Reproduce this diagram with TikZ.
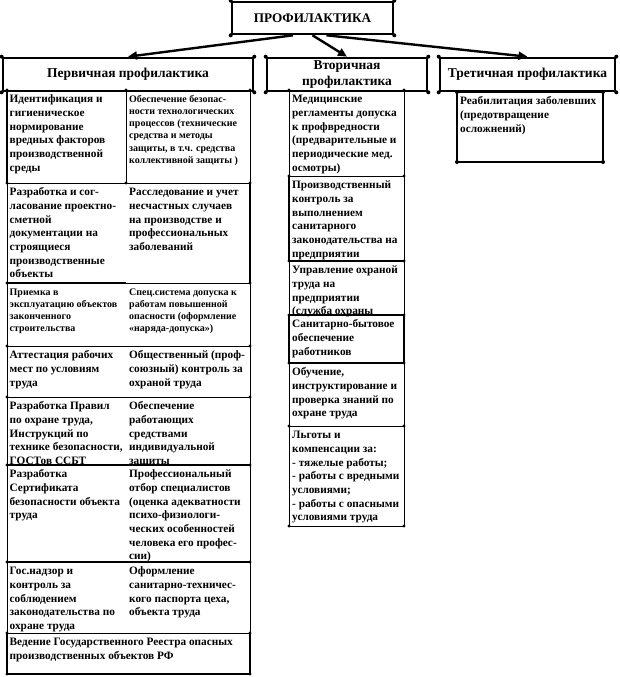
\documentclass[tikz,border=0pt]{standalone}
\usepackage{fontspec}
\setmainfont{Liberation Serif}
\usetikzlibrary{arrows.meta,calc}
\newcommand{\bodyf}{\fontsize{11.3}{13.7}\selectfont\bfseries}
\newcommand{\smallf}{\fontsize{10}{12.2}\selectfont\bfseries}
\newcommand{\headf}{\fontsize{13.5}{15.5}\selectfont\bfseries}
\newcommand{\topf}{\fontsize{13.2}{15}\selectfont\bfseries}
\newcommand{\fs}{\rule{0pt}{10pt}}
\newcommand{\sfs}{\rule{0pt}{9pt}}
\tikzset{
  thinrule/.style={line width=0.8pt},
  thickrule/.style={line width=2.6pt},
  hbox/.style={draw, line width=2.6pt, inner sep=0pt, align=center},
  txt/.style={anchor=north west, inner sep=0pt, align=left, font=\bodyf},
  stxt/.style={anchor=north west, inner sep=0pt, align=left, font=\smallf},
  arr/.style={line width=2.4pt, -{Triangle[length=9pt,width=8pt]}},
  cdot/.style={fill=black}
}
\begin{document}
\begin{tikzpicture}[x=1pt,y=-1pt]
\useasboundingbox (0,0) rectangle (619,677);

% top and header boxes
\node[hbox, minimum width=161pt, minimum height=32pt, font=\topf] (top) at (312.5,18) {ПРОФИЛАКТИКА};
\node[hbox, minimum width=250pt, minimum height=33pt, font=\headf] (prim) at (128,74.5) {Первичная профилактика};
\node[hbox, minimum width=160pt, minimum height=33pt, font=\headf] (sec) at (347,74.5) {Вторичная\\профилактика};
\node[hbox, minimum width=175pt, minimum height=33pt, font=\headf] (tert) at (527.5,74.5) {Третичная профилактика};

\draw[arr] ([xshift=-19.5pt]top.south) -- (prim.north);
\draw[arr] (top.south) -- (sec.north);
\draw[arr] ([xshift=14pt]top.south) -- (tert.north);

% left column grid (thin)
\draw[thinrule] (7,90) -- (250,90);
\draw[thinrule] (7,90) -- (7,633);
\draw[thinrule] (250,90) -- (250,633);
\draw[thinrule] (126,90) -- (126,183);
\foreach \yy in {183,283,346,397,633} \draw[thinrule] (7,\yy) -- (250,\yy);
% left column thick segments
\draw[thickrule] (7,90) -- (7,183);
\draw[thickrule] (250,183) -- (250,283);
\draw[thickrule] (7,283) -- (126,283);
\draw[thickrule] (7,465) -- (250,465);
\draw[thickrule] (7,562) -- (250,562);
\draw[thickrule] (7,633) -- (7,674) -- (250,674) -- (250,633);

% middle column grid
\draw[thinrule] (289,90) rectangle (404,526);
\foreach \yy in {176,261,426} \draw[thinrule] (289,\yy) -- (404,\yy);
\draw[thickrule] (289,176) -- (289,261) -- (404,261);
\draw[thickrule] (289,315) rectangle (404,363);

% tertiary sub box
\draw[thickrule] (457,92) rectangle (603,162);

% corner dots
\foreach \yy in {90,183,283,346,397,465,562,633,674} {
  \fill[cdot] (7,\yy) circle (1.6pt);
  \fill[cdot] (250,\yy) circle (1.6pt);
}
\fill[cdot] (126,90) circle (1.6pt);
\fill[cdot] (126,183) circle (1.6pt);
\foreach \yy in {90,176,261,315,363,426,526} {
  \fill[cdot] (289,\yy) circle (1.6pt);
  \fill[cdot] (404,\yy) circle (1.6pt);
}
\foreach \p in {(top.north west),(top.north east),(top.south west),(top.south east),
  (prim.north west),(prim.north east),(prim.south west),(prim.south east),
  (sec.north west),(sec.north east),(sec.south west),(sec.south east),
  (tert.north west),(tert.north east),(tert.south west),(tert.south east),
  (457,92),(603,92),(457,162),(603,162)}
  \fill[cdot] \p circle (2pt);

% left column texts
\node[txt] (l1a) at (9.5,92.5) {\fs Идентификация и\\гигиеническое\\нормирование\\вредных факторов\\производственной\\среды};
\node[stxt] (l1b) at (129,93) {\sfs Обеспечение безопас-\\ности технологических\\процессов (технические\\средства и методы\\защиты, в т.ч. средства\\коллективной защиты )};
\node[txt] (l2a) at (9.5,185.5) {\fs Разработка и сог-\\ласование проектно-\\сметной\\документации на\\строящиеся\\производственные\\объекты};
\node[txt] (l2b) at (129,185.5) {\fs Расследование и учет\\несчастных случаев\\на производстве и\\профессиональных\\заболеваний};
\node[stxt] (l3a) at (9.5,286) {\sfs Приемка в\\эксплуатацию объектов\\законченного\\строительства};
\node[stxt] (l3b) at (129,286) {\sfs Спец.система допуска к\\работам повышенной\\опасности (оформление\\«наряда-допуска»)};
\node[txt] (l4a) at (9.5,348.5) {\fs Аттестация рабочих\\мест по условиям\\труда};
\node[txt] (l4b) at (129,348.5) {\fs Общественный (проф-\\союзный) контроль за\\охраной труда};
\node[txt] (l5a) at (9.5,399.5) {\fs Разработка Правил\\по охране труда,\\Инструкций по\\технике безопасности,\\ГОСТов ССБТ};
\node[txt] (l5b) at (129,399.5) {\fs Обеспечение\\работающих\\средствами\\индивидуальной\\защиты};
\node[txt] (l6a) at (9.5,467.5) {\fs Разработка\\Сертификата\\безопасности объекта\\труда};
\node[txt] (l6b) at (129,467.5) {\fs Профессиональный\\отбор специалистов\\(оценка адекватности\\психо-физиологи-\\ческих особенностей\\человека его профес-\\сии)};
\node[txt] (l7a) at (9.5,564.5) {\fs Гос.надзор и\\контроль за\\соблюдением\\законодательства по\\охране труда};
\node[txt] (l7b) at (129,564.5) {\fs Оформление\\санитарно-техничес-\\кого паспорта цеха,\\объекта труда};
\node[txt] (l8) at (9.5,635.5) {\fs Ведение Государственного Реестра опасных\\производственных объектов РФ};

% middle column texts
\node[txt] (m1) at (292,92.5) {\fs Медицинские\\регламенты допуска\\к профвредности\\(предварительные и\\периодические мед.\\осмотры)};
\node[txt] (m2) at (292,178.5) {\fs Производственный\\контроль за\\выполнением\\санитарного\\законодательства на\\предприятии};
\node[txt] (m3) at (292,263.5) {\fs Управление охраной\\труда на\\предприятии\\(служба охраны};
\node[txt] (m4) at (292,317.5) {\fs Санитарно-бытовое\\обеспечение\\работников};
\node[txt] (m5) at (292,365.5) {\fs Обучение,\\инструктирование и\\проверка знаний по\\охране труда};
\node[txt] (m6) at (292,428.5) {\fs Льготы и\\компенсации за:\\- тяжелые работы;\\- работы с вредными\\условиями;\\- работы с опасными\\условиями труда};

% tertiary text
\node[txt] (t1) at (460,94.5) {\fs Реабилитация заболевших\\(предотвращение\\осложнений)};
\end{tikzpicture}
\end{document}
